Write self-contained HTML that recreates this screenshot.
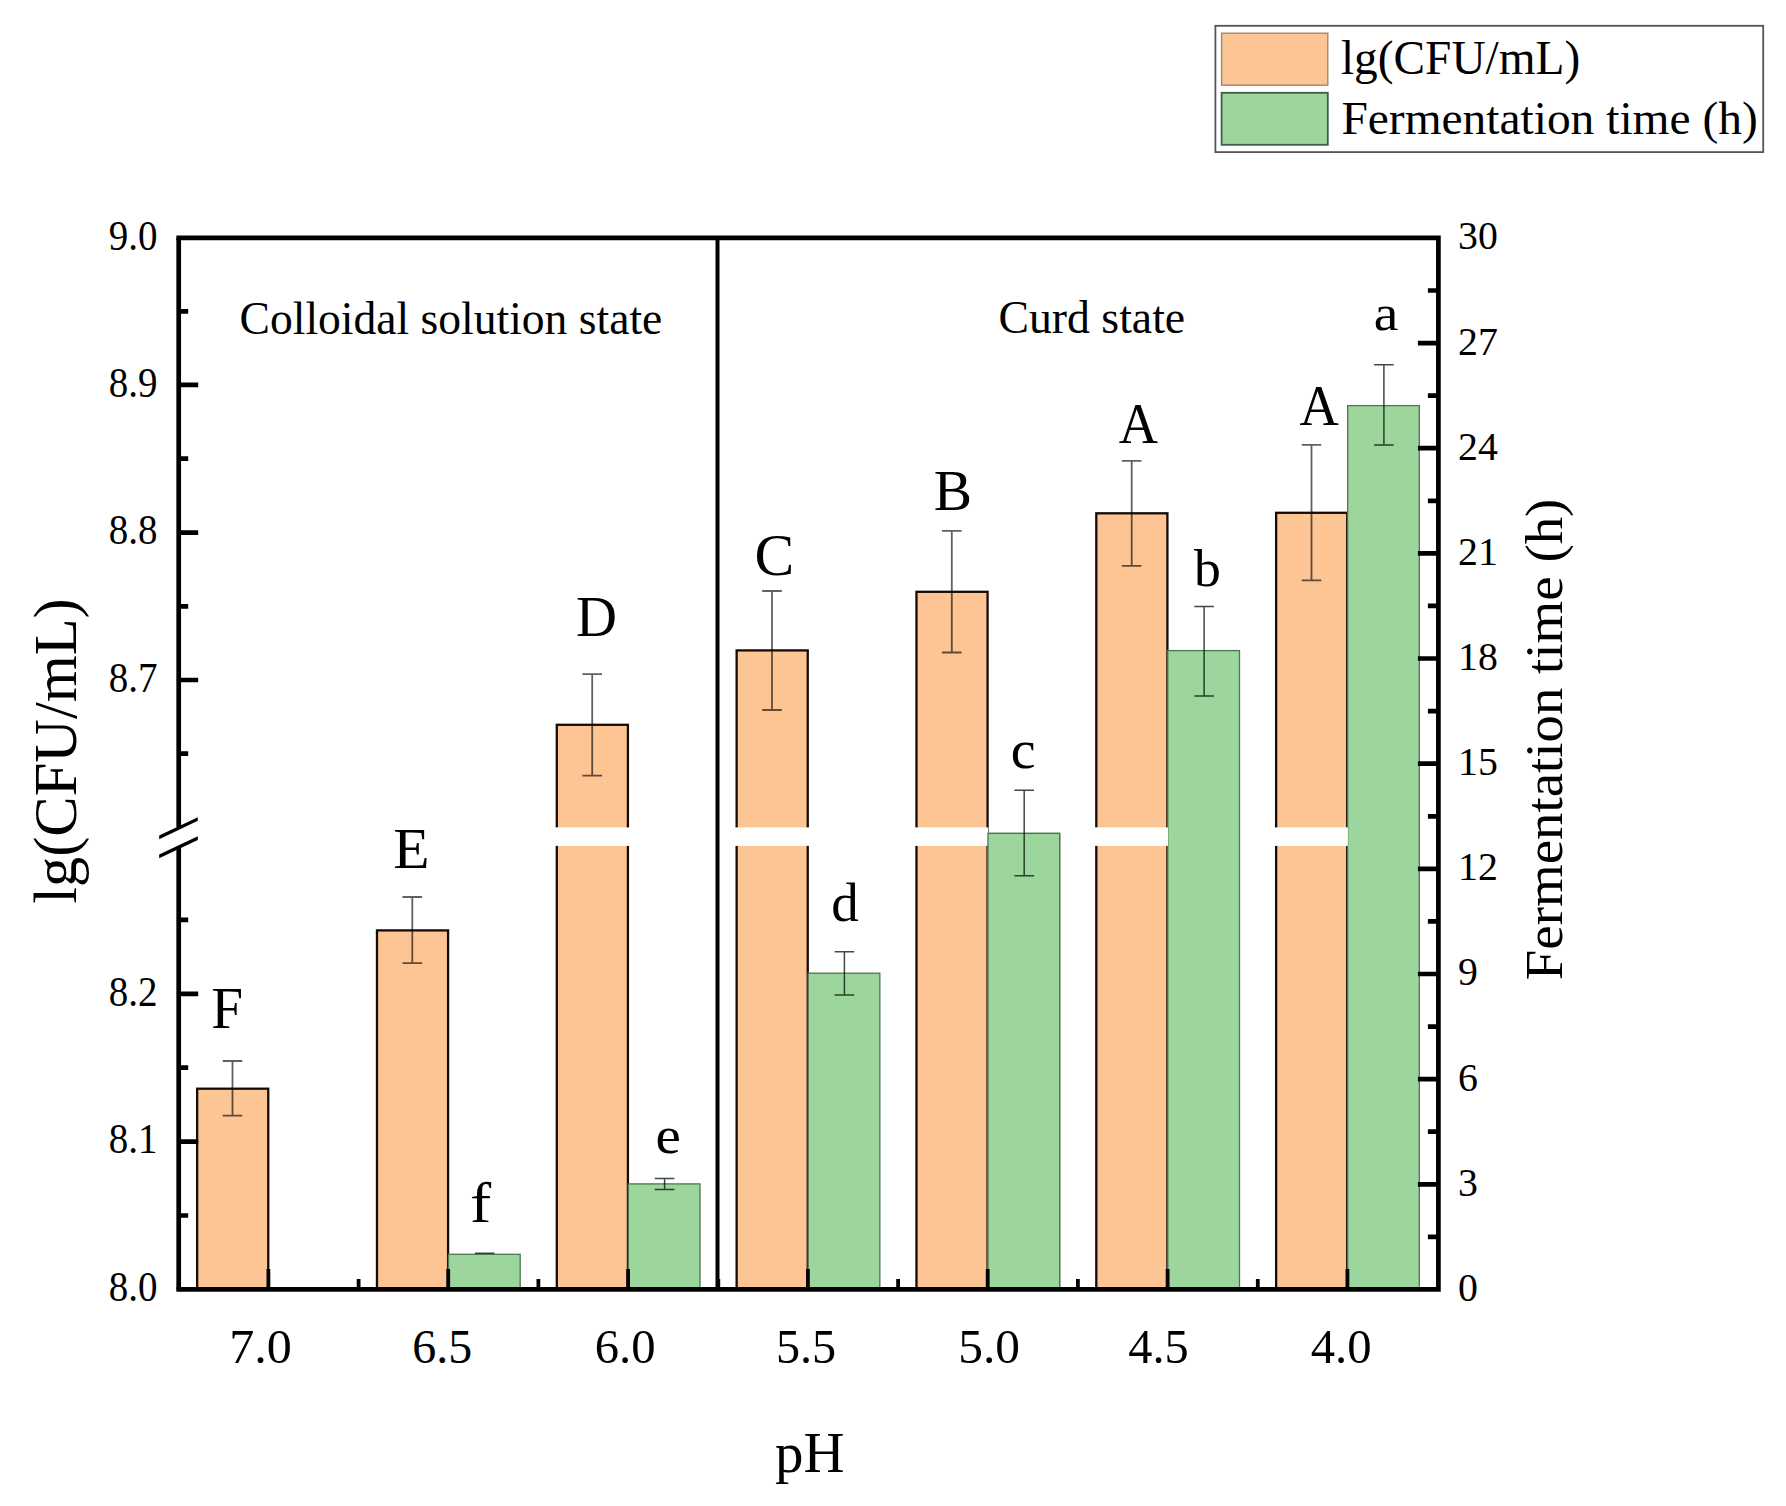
<!DOCTYPE html>
<html lang="en">
<head>
<meta charset="utf-8">
<title>lg(CFU/mL) and fermentation time vs pH</title>
<style>
html,body{margin:0;padding:0;background:#fff;}
body{width:1786px;height:1506px;overflow:hidden;}
svg{display:block;}
text{white-space:pre;}
</style>
</head>
<body>
<svg width="1786" height="1506" viewBox="0 0 1786 1506">
<rect width="1786" height="1506" fill="#ffffff"/>
<g id="bars">
<rect x="197.15" y="1088.70" width="71.10" height="200.75" fill="#FDC594" stroke="#150c05" stroke-width="2.3"/>
<rect x="376.98" y="930.40" width="71.10" height="359.05" fill="#FDC594" stroke="#150c05" stroke-width="2.3"/>
<rect x="556.81" y="724.80" width="71.10" height="564.65" fill="#FDC594" stroke="#150c05" stroke-width="2.3"/>
<rect x="736.64" y="650.40" width="71.10" height="639.05" fill="#FDC594" stroke="#150c05" stroke-width="2.3"/>
<rect x="916.47" y="591.80" width="71.10" height="697.65" fill="#FDC594" stroke="#150c05" stroke-width="2.3"/>
<rect x="1096.30" y="513.30" width="71.10" height="776.15" fill="#FDC594" stroke="#150c05" stroke-width="2.3"/>
<rect x="1276.13" y="512.80" width="71.10" height="776.65" fill="#FDC594" stroke="#150c05" stroke-width="2.3"/>
<rect x="448.48" y="1254.30" width="71.70" height="35.15" fill="#9DD69D" stroke="#4c7652" stroke-width="1.3"/>
<rect x="628.31" y="1183.90" width="71.70" height="105.55" fill="#9DD69D" stroke="#4c7652" stroke-width="1.3"/>
<rect x="808.14" y="973.20" width="71.70" height="316.25" fill="#9DD69D" stroke="#4c7652" stroke-width="1.3"/>
<rect x="987.97" y="833.40" width="71.70" height="456.05" fill="#9DD69D" stroke="#4c7652" stroke-width="1.3"/>
<rect x="1167.80" y="650.60" width="71.70" height="638.85" fill="#9DD69D" stroke="#4c7652" stroke-width="1.3"/>
<rect x="1347.63" y="405.60" width="71.70" height="883.85" fill="#9DD69D" stroke="#4c7652" stroke-width="1.3"/>
</g>
<g id="breakband" fill="#ffffff">
<rect x="552.96" y="827.4" width="77.00" height="18.5"/>
<rect x="732.79" y="827.4" width="77.00" height="18.5"/>
<rect x="912.62" y="827.4" width="75.60" height="18.5"/>
<rect x="1092.45" y="827.4" width="75.60" height="18.5"/>
<rect x="1272.28" y="827.4" width="75.60" height="18.5"/>
</g>
<rect x="987.97" y="833.40" width="71.70" height="456.05" fill="#9DD69D" stroke="#4c7652" stroke-width="1.3"/>
<g id="err" fill="none" stroke="#000" stroke-opacity="0.62" stroke-width="1.8">
<path d="M222.7 1061.0H242.3M232.5 1061.0V1115.7M222.7 1115.7H242.3"/>
<path d="M402.5 897.0H422.1M412.3 897.0V963.2M402.5 963.2H422.1"/>
<path d="M582.4 674.1H602.0M592.2 674.1V775.6M582.4 775.6H602.0"/>
<path d="M762.2 591.0H781.8M772.0 591.0V710.0M762.2 710.0H781.8"/>
<path d="M942.0 530.9H961.6M951.8 530.9V652.5M942.0 652.5H961.6"/>
<path d="M1121.9 460.9H1141.5M1131.7 460.9V565.9M1121.9 565.9H1141.5"/>
<path d="M1301.7 444.8H1321.3M1311.5 444.8V580.3M1301.7 580.3H1321.3"/>
</g>
<g id="errg" fill="none" stroke="#001500" stroke-opacity="0.76" stroke-width="1.5">
<path d="M474.9 1253.3H494.5M484.7 1253.3V1253.3M474.9 1253.3H494.5"/>
<path d="M654.8 1178.4H674.4M664.6 1178.4V1189.4M654.8 1189.4H674.4"/>
<path d="M834.6 951.8H854.2M844.4 951.8V995.0M834.6 995.0H854.2"/>
<path d="M1014.4 790.3H1034.0M1024.2 790.3V875.8M1014.4 875.8H1034.0"/>
<path d="M1194.3 606.5H1213.9M1204.1 606.5V696.0M1194.3 696.0H1213.9"/>
<path d="M1374.1 364.8H1393.7M1383.9 364.8V445.1M1374.1 445.1H1393.7"/>
</g>
<g id="axes" stroke="#000" fill="none" stroke-width="4.7">
<path d="M176.35 237.9H1438.4V1289.45H176.35" stroke-linejoin="miter"/>
<path d="M178.7 237.9V827.2M178.7 846.4V1289.45"/>
<path d="M717.5 237.9V1289.45" stroke-width="4"/>
</g>
<g id="brk" fill="#000" stroke="none">
<path d="M159.2 835.45L197.8 817.15V820.85L159.2 839.15Z"/>
<path d="M159.2 854.55L197.8 836.25V839.95L159.2 858.25Z"/>
</g>
<g id="ticks" stroke="#000" stroke-width="4.7" fill="none">
<path d="M178.7 384.8h19.5M178.7 532.6h19.5M178.7 680.0h19.5M178.7 993.8h19.5M178.7 1141.6h19.5M178.7 311.3h9.5M178.7 458.7h9.5M178.7 606.3h9.5M178.7 753.7h9.5M178.7 919.9h9.5M178.7 1067.7h9.5M178.7 1215.5h9.5M1438.4 1236.9h-10.5M1438.4 1184.3h-20.5M1438.4 1131.7h-10.5M1438.4 1079.1h-20.5M1438.4 1026.6h-10.5M1438.4 974.0h-20.5M1438.4 921.4h-10.5M1438.4 868.8h-20.5M1438.4 816.3h-10.5M1438.4 763.7h-20.5M1438.4 711.1h-10.5M1438.4 658.5h-20.5M1438.4 605.9h-10.5M1438.4 553.4h-20.5M1438.4 500.8h-10.5M1438.4 448.2h-20.5M1438.4 395.6h-10.5M1438.4 343.1h-20.5M1438.4 290.5h-10.5"/>
<path d="M268.4 1289.45v-20.5M448.2 1289.45v-20.5M628.1 1289.45v-20.5M807.9 1289.45v-20.5M987.7 1289.45v-20.5M1167.6 1289.45v-20.5M1347.4 1289.45v-20.5M358.6 1289.45v-10.5M538.4 1289.45v-10.5M718.3 1289.45v-10.5M898.1 1289.45v-10.5M1077.9 1289.45v-10.5M1257.8 1289.45v-10.5" stroke-width="3.8"/>
</g>
<g id="txt" font-family='"Liberation Serif", "DejaVu Serif", serif' fill="#000">
<text transform="translate(157.4 249.70) scale(0.94 1)" text-anchor="end" font-size="41.5">9.0</text>
<text transform="translate(157.4 396.60) scale(0.94 1)" text-anchor="end" font-size="41.5">8.9</text>
<text transform="translate(157.4 544.40) scale(0.94 1)" text-anchor="end" font-size="41.5">8.8</text>
<text transform="translate(157.4 691.80) scale(0.94 1)" text-anchor="end" font-size="41.5">8.7</text>
<text transform="translate(157.4 1005.60) scale(0.94 1)" text-anchor="end" font-size="41.5">8.2</text>
<text transform="translate(157.4 1153.40) scale(0.94 1)" text-anchor="end" font-size="41.5">8.1</text>
<text transform="translate(157.4 1301.25) scale(0.94 1)" text-anchor="end" font-size="41.5">8.0</text>
<text x="1458.0" y="1300.95" font-size="39.8">0</text>
<text x="1458.0" y="1195.80" font-size="39.8">3</text>
<text x="1458.0" y="1090.64" font-size="39.8">6</text>
<text x="1458.0" y="985.49" font-size="39.8">9</text>
<text x="1458.0" y="880.33" font-size="39.8">12</text>
<text x="1458.0" y="775.18" font-size="39.8">15</text>
<text x="1458.0" y="670.02" font-size="39.8">18</text>
<text x="1458.0" y="564.87" font-size="39.8">21</text>
<text x="1458.0" y="459.71" font-size="39.8">24</text>
<text x="1458.0" y="354.56" font-size="39.8">27</text>
<text x="1458.0" y="249.40" font-size="39.8">30</text>
<text transform="translate(229.24 1363.28) scale(1.0484 1)" font-size="47.79">7.0</text>
<text transform="translate(412.27 1363.28)" font-size="47.97">6.5</text>
<text transform="translate(594.63 1363.28) scale(1.0193 1)" font-size="47.79">6.0</text>
<text transform="translate(775.93 1363.27) scale(0.9945 1)" font-size="48.51">5.5</text>
<text transform="translate(958.26 1363.28) scale(1.0344 1)" font-size="47.79">5.0</text>
<text transform="translate(1128.23 1363.28)" font-size="48.33">4.5</text>
<text transform="translate(1310.63 1363.28) scale(1.0194 1)" font-size="47.79">4.0</text>
<text transform="translate(775.05 1471.82)" font-size="56.83">pH</text>
<text transform="translate(76.41 903.81) rotate(-90)" font-size="60.44">lg(CFU/mL)</text>
<text transform="translate(1561.71 980.21) rotate(-90) scale(1.0421 1)" font-size="52.67">Fermentation time (h)</text>
<text transform="translate(239.58 334.14) scale(0.9825 1)" font-size="46.38">Colloidal solution state</text>
<text transform="translate(998.52 333.34) scale(0.9903 1)" font-size="46.17">Curd state</text>
<text transform="translate(211.23 1027.95) scale(0.9762 1)" font-size="58.55">F</text>
<text transform="translate(393.27 867.60) scale(1.0286 1)" font-size="57.79">E</text>
<text transform="translate(575.94 636.36) scale(0.9931 1)" font-size="57.19">D</text>
<text transform="translate(754.42 574.92) scale(1.0245 1)" font-size="58.14">C</text>
<text transform="translate(933.72 509.95) scale(0.9860 1)" font-size="58.10">B</text>
<text transform="translate(1118.81 442.70) scale(0.9523 1)" font-size="57.12">A</text>
<text transform="translate(1299.46 424.70) scale(0.9638 1)" font-size="56.52">A</text>
<text transform="translate(470.03 1222.30) scale(1.1200 1)" font-size="56.74">f</text>
<text transform="translate(655.61 1152.77) scale(1.0828 1)" font-size="52.92">e</text>
<text transform="translate(831.17 921.16) scale(1.0182 1)" font-size="54.04">d</text>
<text transform="translate(1010.80 768.16) scale(1.0338 1)" font-size="54.17">c</text>
<text transform="translate(1193.90 585.58) scale(1.0329 1)" font-size="51.91">b</text>
<text transform="translate(1373.66 329.98) scale(1.0731 1)" font-size="51.67">a</text>
<text transform="translate(1340.95 74.17) scale(0.9951 1)" font-size="47.58">lg(CFU/mL)</text>
<text transform="translate(1341.40 134.22) scale(1.0203 1)" font-size="46.50">Fermentation time (h)</text>
</g>
<g id="legend">
<rect x="1215.4" y="25.8" width="547.8" height="126.3" fill="none" stroke="#555" stroke-width="1.8"/>
<rect x="1221.6" y="33.2" width="106.2" height="52" fill="#FDC594" stroke="#a08670" stroke-width="1.4"/>
<rect x="1221.6" y="92.8" width="106.2" height="52" fill="#9DD69D" stroke="#3f5f45" stroke-width="1.8"/>
</g>
</svg>
</body>
</html>
